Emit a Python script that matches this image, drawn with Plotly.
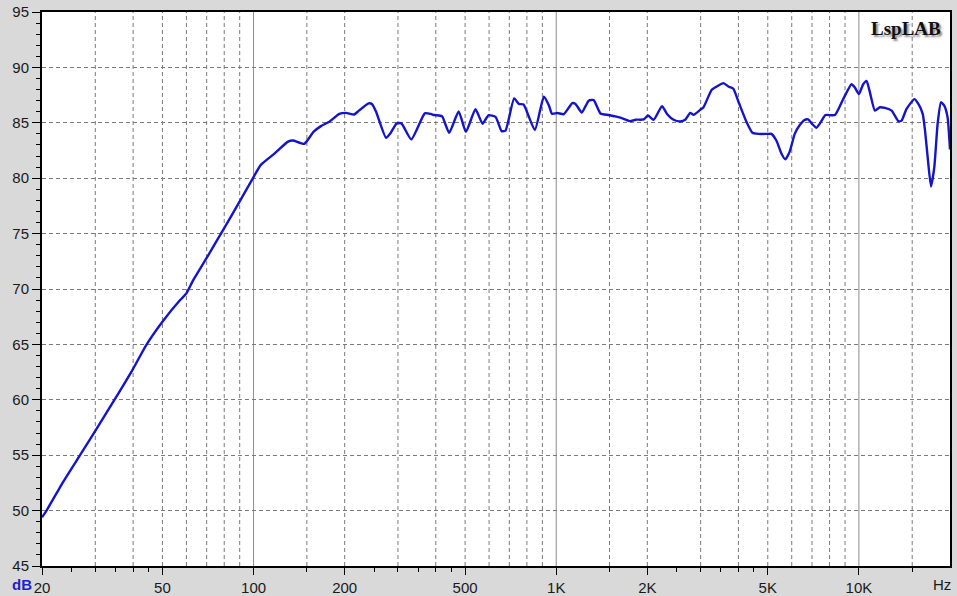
import plotly.graph_objects as go
import math

# ---- data ----
freq_hz = [20, 20.7, 23.5, 27.0, 30, 34.9, 40, 44.1, 50, 57.2, 60, 63.2, 70, 80, 90,
           100, 105.7, 117, 130, 135, 147, 158, 167, 178, 192, 202, 215, 223, 240, 246,
           254, 274, 284, 297, 308, 332, 368, 385, 395, 410, 420, 443, 476, 503, 541,
           571, 597, 631, 660, 680, 726, 753, 780, 850, 910, 946, 968, 1010, 1060, 1130,
           1158, 1215, 1280, 1330, 1400, 1491, 1580, 1671, 1750, 1830, 1946, 2010, 2099,
           2236, 2323, 2443, 2569, 2667, 2770, 2842, 2990, 3066, 3265, 3436, 3569, 3706,
           3848, 4000, 4250, 4450, 4659, 5013, 5138, 5337, 5545, 5715, 5907, 6139, 6379,
           6626, 6795, 7006, 7239, 7483, 7756, 8329, 8874, 9456, 9699, 10000, 10336,
           10602, 10876, 11297, 11736, 12192, 12832, 13501, 13839, 14369, 15244, 15721,
           16250, 16538, 16875, 17307, 17750, 18203, 18668, 19144, 19633, 20000]
spl_db = [49.4, 50.0, 52.6, 55.2, 57.2, 60.1, 62.8, 64.9, 67.05, 69.0, 69.6, 70.8, 72.8,
          75.5, 77.9, 80.1, 81.2, 82.2, 83.3, 83.4, 83.1, 84.2, 84.7, 85.1, 85.8,
          85.9, 85.75, 86.1, 86.75, 86.7, 86.0, 83.65, 84.1, 84.95, 84.95, 83.5, 85.85,
          85.8, 85.7, 85.66, 85.57, 84.1, 86.03, 84.18, 86.22, 84.92, 85.68, 85.52, 84.25,
          84.3, 87.2, 86.7, 86.65, 84.35, 87.35, 86.56, 85.82, 85.88, 85.78, 86.78, 86.7,
          85.93, 87.0, 87.05, 85.84, 85.7, 85.55, 85.36, 85.15, 85.28, 85.3, 85.66, 85.27,
          86.5, 85.8, 85.27, 85.12, 85.27, 85.9, 85.72, 86.17, 86.4, 87.98, 88.37, 88.58,
          88.28, 88.07, 86.9, 85.1, 84.1, 84.0, 84.0, 84.0, 83.4, 82.23, 81.7, 82.4, 84.0,
          84.8, 85.27, 85.3, 84.9, 84.55, 85.06, 85.7, 85.7, 87.14, 88.48, 88.18, 87.6,
          88.48, 88.78, 87.74, 86.1, 86.4, 86.34, 86.1, 85.15, 85.2, 86.25, 87.14, 86.7,
          85.8, 84.3, 81.9, 79.25, 81.0, 84.9, 86.85, 86.55, 85.5, 82.6]

x_tick_vals = [20, 50, 100, 200, 500, 1000, 2000, 5000, 10000]
x_tick_text = ["20", "50", "100", "200", "500", "1K", "2K", "5K", "10K"]
x_minor_ticks = [25, 30, 35, 40, 45, 150, 250, 300, 350, 400, 450,
                 1500, 2500, 3000, 3500, 4000, 4500, 15000]
x_dashed_grid = [30, 40, 50, 60, 70, 80, 90, 150, 200, 300, 400, 500, 600, 700, 800, 900,
                 1500, 2000, 3000, 4000, 5000, 6000, 7000, 8000, 9000, 15000]
x_solid_grid = [100, 1000, 10000]
y_tick_vals = list(range(45, 96, 5))

FONT = "Arial, Liberation Sans, sans-serif"

fig = go.Figure()
fig.add_trace(go.Scatter(
    x=freq_hz, y=spl_db, mode="lines",
    line=dict(color="#1414c8", width=2.4, shape="spline", smoothing=0.5),
    hoverinfo="x+y", showlegend=False))

shapes = []
for f in x_dashed_grid:
    shapes.append(dict(type="line", xref="x", yref="paper", x0=f, x1=f, y0=0, y1=1,
                       line=dict(color="#7a7a7a", width=1, dash="4px,3px"), layer="below"))
for f in x_solid_grid:
    shapes.append(dict(type="line", xref="x", yref="paper", x0=f, x1=f, y0=0, y1=1,
                       line=dict(color="#8c8c8c", width=1), layer="below"))

fig.update_layout(
    width=957, height=596,
    margin=dict(l=42, r=7, t=12, b=30, autoexpand=False),
    paper_bgcolor="#d9d9d9",
    plot_bgcolor="#ffffff",
    font=dict(family=FONT, size=15, color="#1a1a1a"),
    shapes=shapes,
    xaxis=dict(
        type="log", range=[math.log10(20), math.log10(20000)],
        tickmode="array", tickvals=x_tick_vals, ticktext=x_tick_text,
        ticks="outside", ticklen=7, tickwidth=1, tickcolor="#000000",
        showgrid=False, zeroline=False, automargin=False,
        showline=True, linecolor="#000000", linewidth=2, mirror=True,
        minor=dict(tickmode="array", tickvals=x_minor_ticks, ticks="outside",
                   ticklen=4, tickwidth=1, tickcolor="#000000", showgrid=False),
        tickfont=dict(family=FONT, size=15, color="#1a1a1a"),
        fixedrange=True,
    ),
    yaxis=dict(
        range=[45, 95], tickmode="array", tickvals=y_tick_vals,
        ticks="outside", ticklen=8, tickwidth=1, tickcolor="#000000",
        showgrid=True, gridcolor="#7a7a7a", gridwidth=1, griddash="4px,3px",
        zeroline=False, automargin=False,
        showline=True, linecolor="#000000", linewidth=2, mirror=True,
        minor=dict(dtick=1, ticks="outside", ticklen=4, tickwidth=1,
                   tickcolor="#000000", showgrid=False),
        tickfont=dict(family=FONT, size=15, color="#1a1a1a"),
        fixedrange=True,
    ),
    annotations=[
        dict(text="<b>dB</b>", xref="paper", yref="paper", x=-0.022, y=-0.034,
             xanchor="center", yanchor="middle", showarrow=False,
             font=dict(family=FONT, size=15, color="#1e1ed2")),
        dict(text="Hz", xref="paper", yref="paper", x=0.991, y=-0.034,
             xanchor="center", yanchor="middle", showarrow=False,
             font=dict(family=FONT, size=15, color="#1a1a1a")),
        dict(text="<b>LspLAB</b>", xref="paper", yref="paper", x=0.951, y=0.970,
             xanchor="center", yanchor="middle", showarrow=False,
             font=dict(family="Liberation Serif, Times New Roman, serif", size=19,
                       color="#101010", shadow="2px 2px 2px #8a8a8a")),
    ],
)

fig.write_html(
    "out.html",
    config={"displayModeBar": False},
    post_script="document.body.style.margin='0';document.body.style.padding='0';"
                "document.body.style.overflow='hidden';",
)
